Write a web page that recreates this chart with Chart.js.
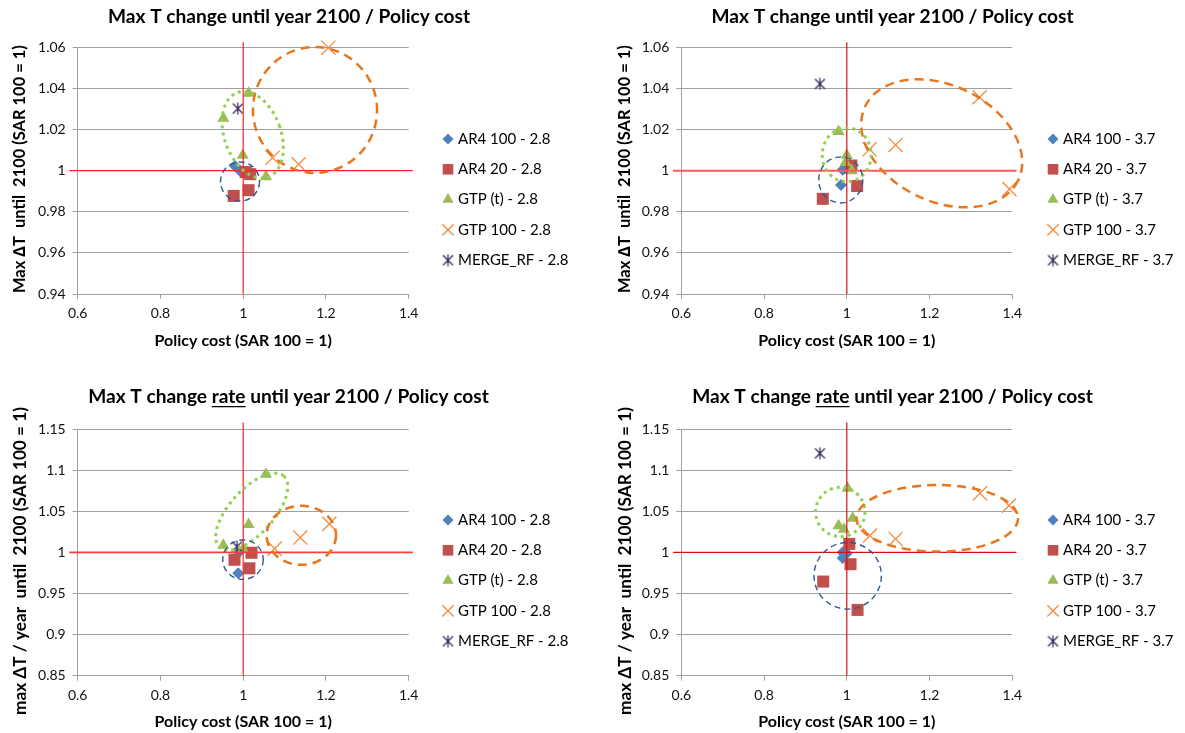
<!DOCTYPE html>
<html lang="en">
<head>
<meta charset="UTF-8">
<title>Max T change / Policy cost</title>
<script src="https://cdn.jsdelivr.net/npm/chart.js@4.4.1/dist/chart.umd.min.js"></script>
<style>
  body { margin: 0; background: #fff; width: 1185px; height: 733px; position: relative; overflow: hidden; }
  canvas { position: absolute; }
</style>
</head>
<body>
<canvas id="c1" width="592" height="366" style="left:0;top:0"></canvas>
<canvas id="c2" width="593" height="366" style="left:592px;top:0"></canvas>
<canvas id="c3" width="592" height="367" style="left:0;top:366px"></canvas>
<canvas id="c4" width="593" height="367" style="left:592px;top:366px"></canvas>
<script>
// ---------- data ----------
const xTicks = [0.6, 0.8, 1, 1.2, 1.4];
const yTicksLevel = [0.94, 0.96, 0.98, 1, 1.02, 1.04, 1.06];
const yTicksRate = [0.85, 0.9, 0.95, 1, 1.05, 1.1, 1.15];

const labels28 = ['AR4 100 - 2.8', 'AR4 20 - 2.8', 'GTP (t) - 2.8', 'GTP 100 - 2.8', 'MERGE_RF - 2.8'];
const labels37 = ['AR4 100 - 3.7', 'AR4 20 - 3.7', 'GTP (t) - 3.7', 'GTP 100 - 3.7', 'MERGE_RF - 3.7'];

// max T change, 2.8
const maxT28_ar4100 = [[0.980, 1.0023], [0.990, 1.0004], [0.995, 0.9995]];
const maxT28_ar420 = [[0.977, 0.9877], [1.013, 0.9905], [1.006, 0.9993], [1.017, 0.9983]];
const maxT28_gtpT = [[0.952, 1.0255], [1.013, 1.0377], [0.999, 1.0075], [1.055, 0.997]];
const maxT28_gtp100 = [[1.206, 1.0598], [1.071, 1.0063], [1.134, 1.0031]];
const maxT28_merge = [[0.987, 1.0302]];

// max T change, 3.7
const maxT37_ar4100 = [[0.986, 0.993], [0.990, 1.0004], [0.995, 1.001]];
const maxT37_ar420 = [[0.942, 0.9863], [1.025, 0.9925], [1.011, 1.0025]];
const maxT37_gtpT = [[0.980, 1.019], [1.000, 1.0075], [0.997, 1.004], [1.012, 1.000]];
const maxT37_gtp100 = [[1.055, 1.0104], [1.118, 1.0125], [1.321, 1.0357], [1.393, 0.991]];
const maxT37_merge = [[0.935, 1.0422]];

// max T change rate, 2.8
const rate28_ar4100 = [[0.988, 0.9745], [0.990, 1.000]];
const rate28_ar420 = [[1.020, 0.9995], [0.979, 0.991], [1.015, 0.9806]];
const rate28_gtpT = [[1.055, 1.0949], [1.013, 1.0338], [0.952, 1.0085], [1.000, 1.004]];
const rate28_gtp100 = [[1.208, 1.0346], [1.138, 1.018], [1.076, 1.0045]];
const rate28_merge = [[0.985, 1.007]];

// max T change rate, 3.7
const rate37_ar4100 = [[0.990, 1.000], [0.995, 0.997], [0.990, 0.993], [1.000, 0.999]];
const rate37_ar420 = [[1.006, 1.0103], [1.009, 0.9856], [0.943, 0.9645], [1.026, 0.930]];
const rate37_gtpT = [[1.002, 1.0779], [1.014, 1.0414], [0.980, 1.0322], [0.993, 1.028]];
const rate37_gtp100 = [[1.056, 1.0204], [1.118, 1.0163], [1.322, 1.0718], [1.392, 1.0568]];
const rate37_merge = [[0.935, 1.1204]];

// reference lines (SAR 100 = 1)
const hLineLevel = [[0.58, 1], [1.41, 1]];
const vLineLevel = [[1, 0.94], [1, 1.0624]];
const hLineRate = [[0.58, 1], [1.41, 1]];
const vLineRate = [[1, 0.85], [1, 1.158]];

// hand-drawn ellipses (centre and radii in axis units, rotation in degrees)
const ellMaxT28 = [
  { kind: 'orange', cx: 1.1735, cy: 1.0295, rx: 0.150, ry: 0.0306, rot: -5 },
  { kind: 'green', cx: 1.023, cy: 1.0174, rx: 0.0682, ry: 0.0219, rot: -20 },
  { kind: 'blue', cx: 0.9923, cy: 0.9947, rx: 0.0471, ry: 0.0095, rot: 0 }
];
const ellMaxT37 = [
  { kind: 'orange', cx: 1.2294, cy: 1.0133, rx: 0.2054, ry: 0.0282, rot: 26 },
  { kind: 'green', cx: 0.9998, cy: 1.0077, rx: 0.0592, ry: 0.0131, rot: 0 },
  { kind: 'blue', cx: 0.9853, cy: 0.9955, rx: 0.0532, ry: 0.0112, rot: 0 }
];
const ellRate28 = [
  { kind: 'green', cx: 1.0205, cy: 1.0494, rx: 0.116, ry: 0.0268, rot: -48 },
  { kind: 'orange', cx: 1.1404, cy: 1.0207, rx: 0.0839, ry: 0.0359, rot: 0 },
  { kind: 'blue', cx: 0.9995, cy: 0.9911, rx: 0.049, ry: 0.024, rot: 0 }
];
const ellRate37 = [
  { kind: 'green', cx: 0.9843, cy: 1.0491, rx: 0.0597, ry: 0.030, rot: 0 },
  { kind: 'orange', cx: 1.2187, cy: 1.0414, rx: 0.1953, ry: 0.0405, rot: 0 },
  { kind: 'blue', cx: 1.0022, cy: 0.9715, rx: 0.0814, ry: 0.0405, rot: 0 }
];

// ---------- styles ----------
const FONT = 'Lato, "Open Sans", sans-serif';
const GRID = '#a0a0a0';

const ellipseStyle = {
  orange: { color: '#e8761e', width: 2.5, dash: [9, 6], cap: 'butt' },
  green: { color: '#92d050', width: 3, dash: [3, 4], cap: 'butt' },
  blue: { color: '#2f5a90', width: 1.4, dash: [6, 4], cap: 'butt' }
};

function makeAsterisk(color) {
  const c = document.createElement('canvas');
  c.width = 13; c.height = 13;
  const g = c.getContext('2d');
  g.strokeStyle = color;
  g.lineWidth = 1.2;
  g.beginPath();
  g.moveTo(1.5, 1.5); g.lineTo(11.5, 11.5);
  g.moveTo(11.5, 1.5); g.lineTo(1.5, 11.5);
  g.moveTo(6.5, 0.5); g.lineTo(6.5, 12.5);
  g.stroke();
  return c;
}
const asterisk = makeAsterisk('#2e2456');

const markerStyle = [
  { pointStyle: 'rectRot', radius: 6, legendRadius: 5.5, bg: '#4f81bd', border: '#4f81bd', bw: 0 },
  { pointStyle: 'rect', radius: 8.5, legendRadius: 7.5, bg: '#c0504d', border: '#c0504d', bw: 0 },
  { pointStyle: 'triangle', radius: 7, legendRadius: 6.5, bg: '#9bbb59', border: '#9bbb59', bw: 0 },
  { pointStyle: 'crossRot', radius: 10, legendRadius: 8, bg: 'rgba(0,0,0,0)', border: '#f58a3c', bw: 1.3 },
  { pointStyle: asterisk, radius: 6, legendRadius: 6, bg: 'rgba(0,0,0,0)', border: '#2e2456', bw: 1 }
];

const toXY = arr => arr.map(p => ({ x: p[0], y: p[1] }));
const fmt = v => String(Math.round(v * 100) / 100);

function fitSize(ctx, text, weight, target) {
  ctx.font = weight + ' 20px ' + FONT;
  return 20 * target / ctx.measureText(text).width;
}

// titles, y-axis title, legend and ellipses
function decor(cfg) {
  return {
    id: 'decor',
    afterDatasetsDraw(chart) {
      const ctx = chart.ctx, xs = chart.scales.x, ys = chart.scales.y;
      ctx.save();
      cfg.ellipses.forEach(e => {
        const st = ellipseStyle[e.kind];
        const cx = xs.getPixelForValue(e.cx), cy = ys.getPixelForValue(e.cy);
        const rx = Math.abs(xs.getPixelForValue(e.cx + e.rx) - cx);
        const ry = Math.abs(ys.getPixelForValue(e.cy + e.ry) - cy);
        ctx.beginPath();
        ctx.ellipse(cx, cy, rx, ry, e.rot * Math.PI / 180, 0, Math.PI * 2);
        ctx.strokeStyle = st.color;
        ctx.lineWidth = st.width;
        ctx.lineCap = st.cap;
        ctx.setLineDash(st.dash);
        ctx.stroke();
      });
      ctx.restore();
    },
    afterDraw(chart) {
      const ctx = chart.ctx;
      ctx.save();
      ctx.fillStyle = '#000';
      ctx.strokeStyle = '#000';

      // chart title (with optional underlined word)
      const full = cfg.title.map(p => p.t).join('');
      const ts = fitSize(ctx, full, 'bold', cfg.titleW);
      ctx.font = 'bold ' + ts + 'px ' + FONT;
      ctx.textBaseline = 'middle';
      ctx.textAlign = 'left';
      let x = cfg.titleX - ctx.measureText(full).width / 2;
      cfg.title.forEach(p => {
        const w = ctx.measureText(p.t).width;
        ctx.fillText(p.t, x, cfg.titleY);
        if (p.u) {
          ctx.lineWidth = 1.2;
          ctx.beginPath();
          ctx.moveTo(x, cfg.titleY + ts * 0.5);
          ctx.lineTo(x + w, cfg.titleY + ts * 0.5);
          ctx.stroke();
        }
        x += w;
      });

      // y axis title, rotated
      const ys = fitSize(ctx, cfg.yTitle, 'bold', cfg.yTitleLen);
      ctx.font = 'bold ' + ys + 'px ' + FONT;
      ctx.translate(cfg.yTitleX, cfg.yTitleBottom);
      ctx.rotate(-Math.PI / 2);
      ctx.fillText(cfg.yTitle, 0, 0);
      ctx.setTransform(1, 0, 0, 1, 0, 0);

      // legend
      const lg = cfg.legend;
      let row = 0;
      chart.data.datasets.forEach(ds => {
        if (!ds.inLegend) return;
        const y = lg.y + row * lg.step;
        ctx.fillStyle = ds.backgroundColor;
        ctx.strokeStyle = ds.borderColor;
        ctx.lineWidth = ds.borderWidth;
        ctx.setLineDash([]);
        Chart.helpers.drawPoint(ctx, {
          pointStyle: ds.pointStyle, radius: ds.legendRadius, rotation: 0, borderWidth: ds.borderWidth
        }, lg.x, y);
        ctx.fillStyle = '#000';
        ctx.font = lg.size + 'px ' + FONT;
        ctx.textBaseline = 'middle';
        ctx.fillText(ds.label, lg.x + lg.gap, y);
        row++;
      });
      ctx.restore();
    }
  };
}

function makeChart(c) {
  const canvas = document.getElementById(c.id);
  const W = canvas.width, H = canvas.height;
  const datasets = c.series.map((s, i) => {
    const st = markerStyle[i];
    return {
      label: c.labels[i],
      data: toXY(s),
      pointStyle: st.pointStyle,
      pointRadius: st.radius,
      backgroundColor: st.bg,
      borderColor: st.border,
      borderWidth: st.bw,
      legendRadius: st.legendRadius,
      inLegend: true,
      order: 5 - i,
      clip: false
    };
  });
  c.lines.forEach(l => datasets.push({
    data: toXY(l.data), showLine: true, pointRadius: 0, borderColor: l.color,
    borderWidth: l.width, order: 0, clip: false
  }));

  new Chart(canvas, {
    type: 'scatter',
    data: { datasets },
    options: {
      responsive: false,
      animation: false,
      devicePixelRatio: 1,
      events: [],
      layout: { padding: { left: 0, top: c.top, right: W - c.right, bottom: 0 } },
      plugins: { legend: { display: false }, tooltip: { enabled: false }, title: { display: false } },
      scales: {
        x: {
          type: 'linear', min: 0.6, max: 1.4,
          afterBuildTicks: s => { s.ticks = xTicks.map(v => ({ value: v })); },
          afterFit: s => { s.height = H - c.bottom; },
          ticks: { callback: fmt, font: { family: FONT, size: 14 }, color: '#111', padding: c.xTickPad, maxRotation: 0, autoSkip: false },
          grid: { drawOnChartArea: false, drawTicks: true, tickLength: 5, color: GRID },
          border: { display: true, color: GRID },
          title: {
            display: true, text: 'Policy cost (SAR 100 = 1)', color: '#000',
            font: { family: FONT, size: 16, weight: 'bold' }, padding: { top: 0, bottom: c.xTitlePad }
          }
        },
        y: {
          type: 'linear', min: c.yTicks[0], max: c.yTicks[c.yTicks.length - 1],
          afterBuildTicks: s => { s.ticks = c.yTicks.map(v => ({ value: v })); },
          afterFit: s => { s.width = c.left; },
          ticks: { callback: fmt, font: { family: FONT, size: 14 }, color: '#111', padding: 7, autoSkip: false },
          grid: { color: GRID, tickLength: 5 },
          border: { display: true, color: GRID }
        }
      }
    },
    plugins: [decor(c)]
  });
}

const titleLevel = [{ t: 'Max T change until year 2100 / Policy cost' }];
const titleRate = [{ t: 'Max T change ' }, { t: 'rate', u: true }, { t: ' until year 2100 / Policy cost' }];
const yTitleLevel = 'Max \u2206T  until  2100 (SAR 100 = 1)';
const yTitleRate = 'max \u0394T / year  until  2100 (SAR 100 = 1)';

makeChart({
  id: 'c1', left: 77.7, right: 408.7, top: 47.3, bottom: 294,
  yTicks: yTicksLevel, labels: labels28,
  series: [maxT28_ar4100, maxT28_ar420, maxT28_gtpT, maxT28_gtp100, maxT28_merge],
  lines: [{ data: hLineLevel, color: '#ff2020', width: 1.2 }, { data: vLineLevel, color: '#ff2020', width: 1.2 }],
  ellipses: ellMaxT28,
  title: titleLevel, titleX: 289, titleY: 17, titleW: 362,
  yTitle: yTitleLevel, yTitleX: 20, yTitleBottom: 293, yTitleLen: 248,
  legend: { x: 448, y: 139, step: 30.3, gap: 10, size: 15 },
  xTickPad: 6, xTitlePad: 16
});
makeChart({
  id: 'c2', left: 89.3, right: 420.3, top: 47.3, bottom: 294,
  yTicks: yTicksLevel, labels: labels37,
  series: [maxT37_ar4100, maxT37_ar420, maxT37_gtpT, maxT37_gtp100, maxT37_merge],
  lines: [{ data: hLineLevel, color: '#ff5a5a', width: 2 }, { data: vLineLevel, color: '#d81010', width: 1.2 }],
  ellipses: ellMaxT37,
  title: titleLevel, titleX: 300.5, titleY: 17, titleW: 362,
  yTitle: yTitleLevel, yTitleX: 33, yTitleBottom: 293, yTitleLen: 248,
  legend: { x: 461, y: 139, step: 30.3, gap: 10, size: 15 },
  xTickPad: 6, xTitlePad: 16
});
makeChart({
  id: 'c3', left: 77.7, right: 408.7, top: 63, bottom: 309.7,
  yTicks: yTicksRate, labels: labels28,
  series: [rate28_ar4100, rate28_ar420, rate28_gtpT, rate28_gtp100, rate28_merge],
  lines: [{ data: hLineRate, color: '#ff3a3a', width: 1.6 }, { data: vLineRate, color: '#ff2020', width: 1.2 }],
  ellipses: ellRate28,
  title: titleRate, titleX: 288.5, titleY: 31, titleW: 401,
  yTitle: yTitleRate, yTitleX: 20, yTitleBottom: 349, yTitleLen: 308,
  legend: { x: 448, y: 154, step: 30.3, gap: 10, size: 15 },
  xTickPad: 6, xTitlePad: 2
});
makeChart({
  id: 'c4', left: 89.3, right: 420.3, top: 63, bottom: 309.7,
  yTicks: yTicksRate, labels: labels37,
  series: [rate37_ar4100, rate37_ar420, rate37_gtpT, rate37_gtp100, rate37_merge],
  lines: [{ data: hLineRate, color: '#d81010', width: 1.2 }, { data: vLineRate, color: '#d81010', width: 1.2 }],
  ellipses: ellRate37,
  title: titleRate, titleX: 300.5, titleY: 31, titleW: 401,
  yTitle: yTitleRate, yTitleX: 33, yTitleBottom: 349, yTitleLen: 308,
  legend: { x: 461, y: 154, step: 30.3, gap: 10, size: 15 },
  xTickPad: 6, xTitlePad: 2
});
</script>
</body>
</html>
